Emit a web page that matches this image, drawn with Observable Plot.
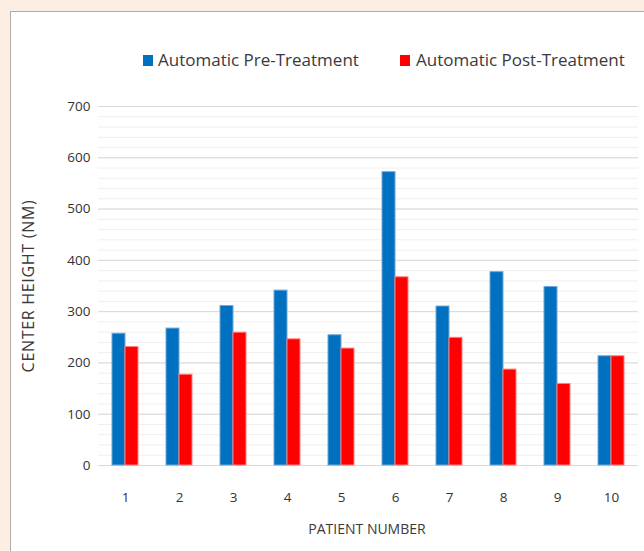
<!DOCTYPE html>
<html>
<head>
<meta charset="utf-8">
<script src="https://cdn.jsdelivr.net/npm/d3@7"></script>
<script src="https://cdn.jsdelivr.net/npm/@observablehq/plot@0.6"></script>
<style>
  html, body { margin: 0; padding: 0; }
  body { background: #fdeee4; width: 644px; height: 551px; overflow: hidden; position: relative; font-family: "Open Sans", sans-serif; color: #404040; }
  #panel { position: absolute; left: 10px; top: 11px; width: 700px; height: 600px; background: #fff; border: 1px solid #b3aca6; box-sizing: border-box; }
  #chart { position: absolute; left: 0; top: 0; }
  .leg { position: absolute; top: 48px; font-size: 17px; line-height: 24px; white-space: nowrap; color: #3a3a3a; }
  .sw { position: absolute; top: 55px; width: 10px; height: 11px; }
  #ytitle { position: absolute; left: 28px; top: 286px; transform: translate(-50%, -50%) rotate(-90deg); font-size: 16px; letter-spacing: 0.7px; white-space: nowrap; color: #3a3a3a; }
  #xtitle { position: absolute; left: 367px; top: 528px; transform: translate(-50%, -50%); font-size: 14px; white-space: nowrap; color: #3a3a3a; }
</style>
</head>
<body>
<div id="panel"></div>
<div id="chart"></div>
<div class="sw" id="sw0" style="left:143px;"></div>
<div class="leg" id="lg0" style="left:158px;"></div>
<div class="sw" id="sw1" style="left:400px;"></div>
<div class="leg" id="lg1" style="left:416px;"></div>
<div id="ytitle"></div>
<div id="xtitle"></div>
<script>
const patients = [1, 2, 3, 4, 5, 6, 7, 8, 9, 10];
const preTreatment = [257, 267, 311, 341, 254, 572, 310, 377, 348, 213];
const postTreatment = [231, 177, 259, 246, 228, 367, 249, 187, 159, 213];
const seriesNames = ["Automatic Pre-Treatment", "Automatic Post-Treatment"];
const seriesFill = ["#0070c0", "#ff0000"];
const seriesStroke = ["#6fa8dc", "#ff8080"];
const yTicks = [0, 100, 200, 300, 400, 500, 600, 700];
const yMinorTicks = d3.range(0, 701, 20);
const yTitle = "CENTER HEIGHT (NM)";
const xTitle = "PATIENT NUMBER";

const data = [];
patients.forEach((p, i) => {
  data.push({patient: p, series: seriesNames[0], value: preTreatment[i]});
  data.push({patient: p, series: seriesNames[1], value: postTreatment[i]});
});

const chart = Plot.plot({
  width: 644,
  height: 551,
  marginLeft: 93,
  marginRight: 2,
  marginTop: 106,
  marginBottom: 86,
  style: {background: "transparent", fontFamily: "'Open Sans', sans-serif", fontSize: "13.5px", color: "#333333"},
  fx: {domain: patients, padding: 0, label: null, axis: "bottom", tickSize: 0, tickPadding: 27},
  x: {domain: seriesNames, paddingInner: 0, paddingOuter: 1, axis: null},
  y: {domain: [0, 700], ticks: yTicks, tickSize: 0, tickPadding: 8, label: null},
  marks: [
    Plot.ruleY(yMinorTicks, {stroke: "#efefef", strokeWidth: 1}),
    Plot.ruleY(yTicks, {stroke: "#d9d9d9", strokeWidth: 1}),
    ...seriesNames.map((s, k) => Plot.barY(data.filter(d => d.series === s), {
      fx: "patient", x: "series", y: "value",
      fill: seriesFill[k], stroke: seriesStroke[k], strokeWidth: 1
    }))
  ]
});
document.getElementById("chart").appendChild(chart);

seriesNames.forEach((s, k) => {
  document.getElementById("sw" + k).style.background = seriesFill[k];
  document.getElementById("lg" + k).textContent = s;
});
document.getElementById("ytitle").textContent = yTitle;
document.getElementById("xtitle").textContent = xTitle;
</script>
</body>
</html>
